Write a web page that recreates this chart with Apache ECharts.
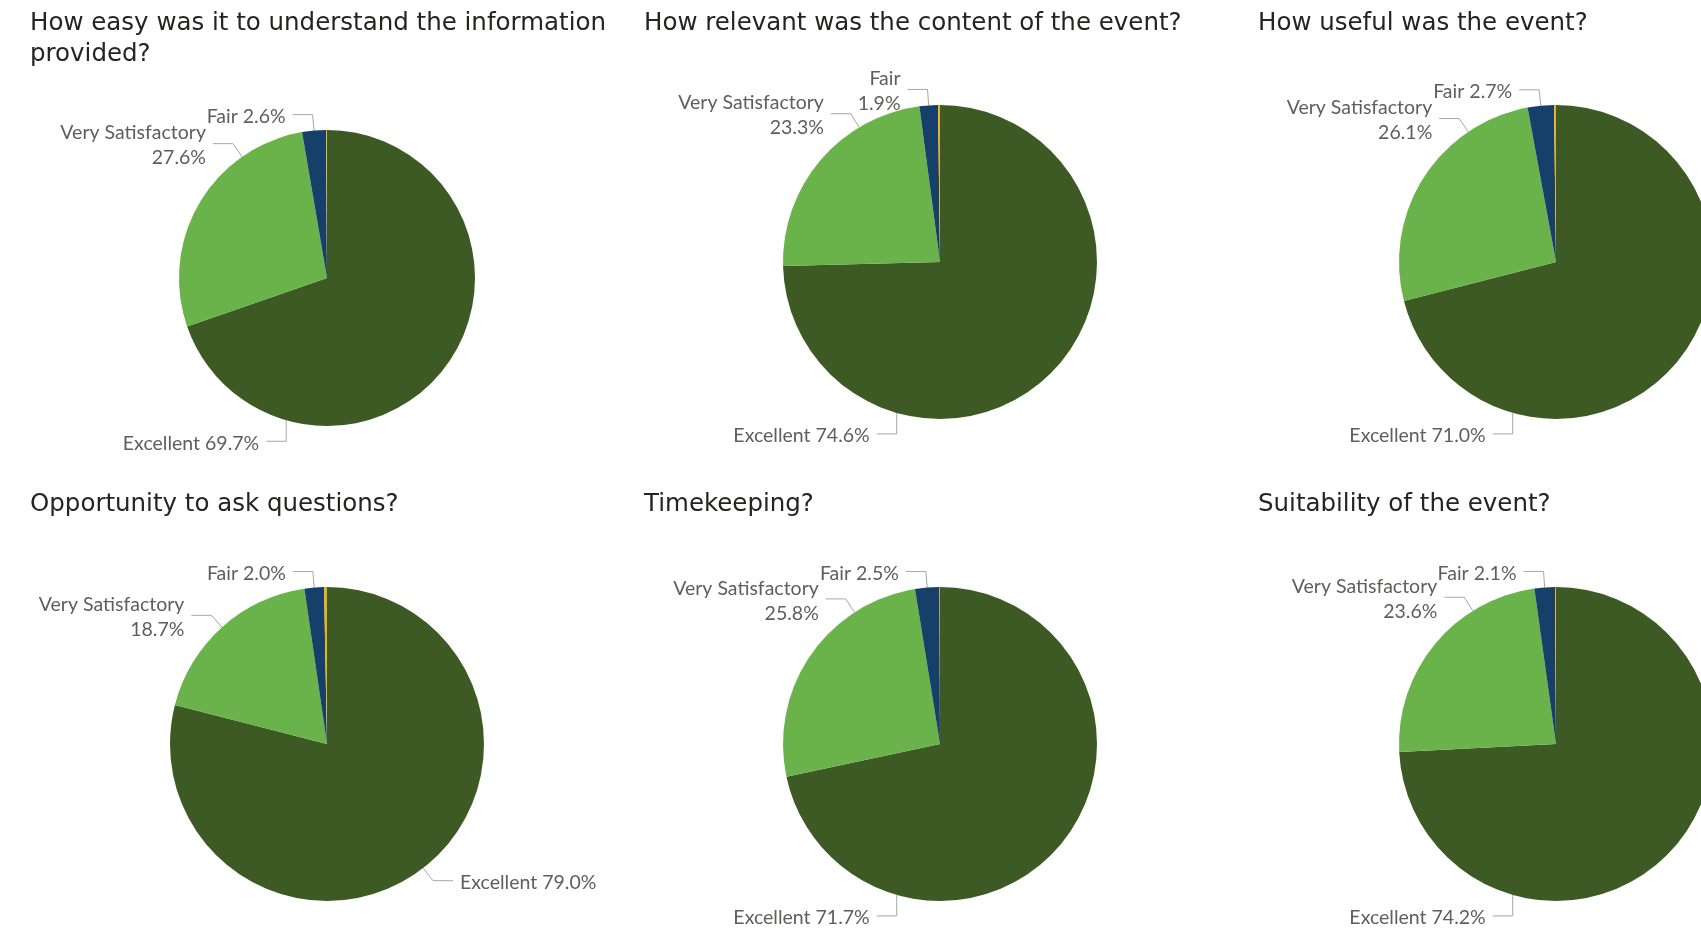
<!DOCTYPE html>
<html>
<head>
<meta charset="utf-8">
<script src="https://cdn.jsdelivr.net/npm/echarts@6/dist/echarts.min.js"></script>
<style>
html,body{margin:0;padding:0;background:#ffffff;}
#c{width:1701px;height:928px;}
</style>
</head>
<body>
<div id="c"></div>
<script>
// ---------- data ----------
const categories = ['Excellent', 'Very Satisfactory', 'Fair', 'Poor'];
const titles = [
  'How easy was it to understand the information\nprovided?',
  'How relevant was the content of the event?',
  'How useful was the event?',
  'Opportunity to ask questions?',
  'Timekeeping?',
  'Suitability of the event?'
];
const easyValues        = [69.7, 27.6, 2.6, 0.1];
const relevantValues    = [74.6, 23.3, 1.9, 0.2];
const usefulValues      = [71.0, 26.1, 2.7, 0.2];
const questionsValues   = [79.0, 18.7, 2.0, 0.3];
const timekeepingValues = [71.7, 25.8, 2.5, 0.05];
const suitabilityValues = [74.2, 23.6, 2.1, 0.1];
const seriesValues = [easyValues, relevantValues, usefulValues, questionsValues, timekeepingValues, suitabilityValues];

// ---------- style / layout ----------
const colors = ['#3d5a25', '#69b34a', '#163f6a', '#e9b01c'];
const TITLE_FONT = '"DejaVu Sans", Roboto, sans-serif';
const LABEL_FONT = 'Lato, "Open Sans", sans-serif';
const LABEL_SIZE = 19.5, LINE_H = 25, GLYPH_H = 19;
const L1 = 16, L2 = 20, GAP = 7, TEXT_DY = 2;
const SLIDE_ANGLE = 329, BOTTOM_ANGLE = 196, BOTTOM_LEG = 21;

const layouts = [
  {cx: 327,  cy: 278, r: 148, cellLeft: 0,    cellRight: 615,  tx: 30,   ty: 8,   fairWrap: false},
  {cx: 940,  cy: 262, r: 157, cellLeft: 615,  cellRight: 1230, tx: 644,  ty: 8,   fairWrap: true},
  {cx: 1556, cy: 262, r: 157, cellLeft: 1230, cellRight: 1701, tx: 1258, ty: 8,   fairWrap: false},
  {cx: 327,  cy: 744, r: 157, cellLeft: 0,    cellRight: 615,  tx: 30,   ty: 489, fairWrap: false},
  {cx: 940,  cy: 744, r: 157, cellLeft: 615,  cellRight: 1230, tx: 644,  ty: 489, fairWrap: false},
  {cx: 1556, cy: 744, r: 157, cellLeft: 1230, cellRight: 1701, tx: 1258, ty: 489, fairWrap: false}
];

const measureCtx = document.createElement('canvas').getContext('2d');
function textWidth(str) {
  measureCtx.font = LABEL_SIZE + 'px ' + LABEL_FONT;
  return Math.max.apply(null, str.split('\n').map(s => measureCtx.measureText(s).width));
}
function labelText(cfg, idx, v) {
  const pct = v.toFixed(1) + '%';
  if (idx === 1) return categories[idx] + '\n' + pct;
  if (idx === 2 && cfg.fairWrap) return categories[idx] + '\n' + pct;
  return categories[idx] + ' ' + pct;
}

function makeLabelLayout(cfg, values) {
  const total = values.reduce((a, b) => a + b, 0);
  const mids = [];
  let acc = 0;
  values.forEach(v => { mids.push((acc + v / 2) / total * 360); acc += v; });
  const pt = th => { const a = th * Math.PI / 180; return [cfg.cx + cfg.r * Math.sin(a), cfg.cy - cfg.r * Math.cos(a)]; };
  const radial = th => {
    const a = th * Math.PI / 180;
    const d = [Math.sin(a), -Math.cos(a)];
    const A = pt(th);
    const B = [A[0] + L1 * d[0], A[1] + L1 * d[1]];
    const s = d[0] < 0 ? -1 : 1;
    const C = [B[0] + s * L2, B[1]];
    return {A, B, C, s};
  };
  // rectangle of a left-side label anchored by guide g
  const leftRect = (g, text) => {
    const n = text.split('\n').length;
    const w = textWidth(text);
    const cy = g.C[1] + TEXT_DY;
    const h = (n - 1) * LINE_H + GLYPH_H;
    return {x0: g.C[0] - GAP - w, x1: g.C[0] - GAP, y0: cy - h / 2, y1: cy + h / 2};
  };
  const overlap = (a, b) => a.x0 < b.x1 && b.x0 < a.x1 && a.y0 < b.y1 && b.y0 < a.y1;

  return function (p) {
    const idx = p.dataIndex;
    if (idx === 3) return {};
    const text = labelText(cfg, idx, values[idx]);
    const w = textWidth(text);
    let g = radial(mids[idx]);
    if (idx === 0 && g.s > 0 && g.C[0] + GAP + w > cfg.cellRight - 10) {
      const A = pt(BOTTOM_ANGLE);
      const B = [A[0], A[1] + BOTTOM_LEG];
      const C = [B[0] - L2, B[1]];
      return {x: C[0] - GAP, y: C[1] + TEXT_DY, align: 'right', verticalAlign: 'middle', labelLinePoints: [A, B, C]};
    }
    if (idx === 1 && g.C[0] - GAP - w < cfg.cellLeft + 35) {
      const fairRect = leftRect(radial(mids[2]), labelText(cfg, 2, values[2]));
      let th = SLIDE_ANGLE;
      g = radial(th);
      while (th > mids[1] && overlap(leftRect(g, text), fairRect)) {
        th -= 0.5;
        g = radial(th);
      }
    }
    return {
      x: g.s > 0 ? g.C[0] + GAP : g.C[0] - GAP,
      y: g.C[1] + TEXT_DY,
      align: g.s > 0 ? 'left' : 'right',
      verticalAlign: 'middle',
      labelLinePoints: [g.A, g.B, g.C]
    };
  };
}

const chart = echarts.init(document.getElementById('c'), null, {renderer: 'canvas'});

const option = {
  animation: false,
  backgroundColor: '#ffffff',
  title: layouts.map((cfg, i) => ({
    text: titles[i],
    left: cfg.tx,
    top: cfg.ty,
    padding: 0,
    textStyle: {fontFamily: TITLE_FONT, fontSize: 24.5, fontWeight: 'normal', color: '#252423', lineHeight: 31}
  })),
  series: layouts.map((cfg, si) => {
    const values = seriesValues[si];
    return {
      type: 'pie',
      center: [cfg.cx, cfg.cy],
      radius: [0, cfg.r],
      startAngle: 90,
      clockwise: true,
      avoidLabelOverlap: false,
      silent: true,
      itemStyle: {borderWidth: 0},
      label: {
        show: true,
        position: 'outside',
        width: 400,
        overflow: 'none',
        fontFamily: LABEL_FONT,
        fontSize: LABEL_SIZE,
        lineHeight: LINE_H,
        color: '#605e5c',
        formatter: p => labelText(cfg, p.dataIndex, values[p.dataIndex])
      },
      labelLine: {show: true, length: L1, length2: L2, lineStyle: {color: '#a6a6a6', width: 1}},
      labelLayout: makeLabelLayout(cfg, values),
      data: categories.map((n, i) => ({
        name: n,
        value: values[i],
        itemStyle: {color: colors[i]},
        label: i === 3 ? {show: false} : undefined,
        labelLine: i === 3 ? {show: false} : undefined
      }))
    };
  })
};
chart.setOption(option);
</script>
</body>
</html>
